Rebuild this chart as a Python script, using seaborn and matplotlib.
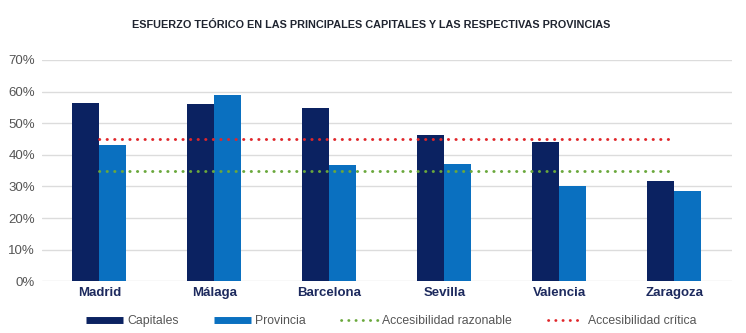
import matplotlib
matplotlib.use("Agg")
import matplotlib.pyplot as plt
from matplotlib.lines import Line2D
from matplotlib.ticker import PercentFormatter
import seaborn as sns
import pandas as pd

ciudades = ["Madrid", "Málaga", "Barcelona", "Sevilla", "Valencia", "Zaragoza"]
capitales = [56.5, 56.0, 54.8, 46.4, 44.1, 31.6]
provincia = [43.0, 58.8, 36.7, 37.0, 30.3, 28.6]
acc_razonable = 35.0
acc_critica = 45.0

c_cap = "#0b2261"
c_prov = "#0a70c0"
c_verde = "#6aa83c"
c_rojo = "#e0262a"

df = pd.DataFrame({
    "ciudad": ciudades * 2,
    "serie": ["Capitales"] * len(ciudades) + ["Provincia"] * len(ciudades),
    "valor": capitales + provincia,
})

sns.set_theme(style="white")
plt.rcParams["font.family"] = ["Liberation Sans", "DejaVu Sans"]

fig, ax = plt.subplots(figsize=(7.46, 3.33), dpi=100)
fig.subplots_adjust(left=0.056, right=0.981, top=0.82, bottom=0.155)

sns.barplot(data=df, x="ciudad", y="valor", hue="serie",
            palette=[c_cap, c_prov], width=0.47, saturation=1,
            edgecolor="none", legend=False, ax=ax)

# Reference thresholds drawn as dotted lines across the city positions
xs = list(range(len(ciudades)))
dots = (0, (0.1, 2.5))
ax.plot(xs, [acc_razonable] * len(xs), linestyle=dots, dash_capstyle="round",
        color=c_verde, linewidth=2.1, zorder=3)
ax.plot(xs, [acc_critica] * len(xs), linestyle=dots, dash_capstyle="round",
        color=c_rojo, linewidth=2.1, zorder=3)

ax.set_ylim(0, 70)
ax.set_xlim(-0.5, len(ciudades) - 0.5)
ax.set_yticks(range(0, 71, 10))
ax.yaxis.set_major_formatter(PercentFormatter(decimals=0))
ax.grid(axis="y", color="#dcdcdc", linewidth=1.0)
ax.set_axisbelow(True)
for s in ax.spines.values():
    s.set_visible(False)
ax.set_xlabel("")
ax.set_ylabel("")
ax.tick_params(axis="y", labelsize=9.5, colors="#555555", pad=5, length=0)
ax.tick_params(axis="x", length=0, pad=4)
for lbl in ax.get_xticklabels():
    lbl.set_fontweight("bold")
    lbl.set_color("#1d2a5e")
    lbl.set_fontsize(9.5)

fig.text(0.497, 0.925, "ESFUERZO TEÓRICO EN LAS PRINCIPALES CAPITALES Y LAS RESPECTIVAS PROVINCIAS",
         ha="center", va="center", fontsize=7.8, fontweight="bold", color="#1f2430")

handles = [
    Line2D([], [], color=c_cap, linewidth=5, solid_capstyle="butt"),
    Line2D([], [], color=c_prov, linewidth=5, solid_capstyle="butt"),
    Line2D([], [], color=c_verde, linewidth=2.0, linestyle=(0, (0.1, 2.5)), dash_capstyle="round"),
    Line2D([], [], color=c_rojo, linewidth=2.0, linestyle=(0, (0.1, 2.5)), dash_capstyle="round"),
]
labels = ["Capitales", "Provincia", "Accesibilidad razonable", "Accesibilidad crítica"]
fig.legend(handles, labels, loc="center", bbox_to_anchor=(0.525, 0.035), ncol=4,
           frameon=False, fontsize=8.8, handlelength=3.0, handletextpad=0.35,
           columnspacing=2.9, labelcolor="#555555")

fig.savefig("out.png", dpi=100)
